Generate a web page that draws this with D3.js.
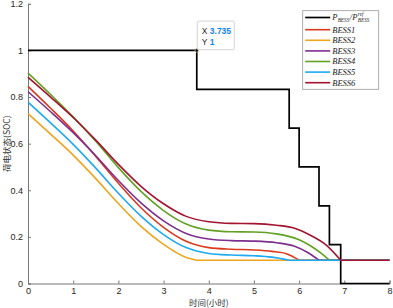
<!DOCTYPE html>
<html>
<head>
<meta charset="utf-8">
<script src="https://cdn.jsdelivr.net/npm/d3@7"></script>
<style>
  body { margin: 0; background: #fff; }
  svg { display: block; }
  .tick text { font-family: "Liberation Sans", Arial, sans-serif; font-size: 9px; fill: #262626; }
</style>
</head>
<body>
<svg id="chart"></svg>
<script>
// power reference step (P_BESS / P_BESS^ref)
const stepTimes = [0, 3.735, 5.78, 6.0, 6.44, 6.67, 6.92, 8];
const stepValues = [1, 0.833, 0.667, 0.5, 0.333, 0.167, 0, 0];

// SOC curves, [hour, soc]; each ends where it hits the 0.1 floor
const bess1 = [[0,0.846],[0.5,0.752],[1,0.654],[1.5,0.545],[2,0.430],[2.5,0.325],[3,0.241],[3.5,0.181],[4,0.154],[4.5,0.147],[5,0.144],[5.4,0.138],[5.72,0.128],[6.0,0.1]];
const bess2 = [[0,0.729],[0.5,0.641],[1,0.551],[1.5,0.450],[2,0.343],[2.5,0.245],[3,0.168],[3.5,0.112],[3.735,0.1]];
const bess3 = [[0,0.823],[0.5,0.737],[1,0.647],[1.5,0.548],[2,0.442],[2.5,0.346],[3,0.269],[3.5,0.215],[4,0.191],[4.5,0.184],[5,0.182],[5.5,0.175],[5.9,0.160],[6.2,0.132],[6.44,0.1]];
const bess4 = [[0,0.903],[0.5,0.811],[1,0.715],[1.5,0.610],[2,0.497],[2.5,0.395],[3,0.313],[3.5,0.255],[4,0.229],[4.5,0.222],[5,0.221],[5.5,0.213],[6,0.188],[6.25,0.162],[6.5,0.128],[6.67,0.1]];
const bess5 = [[0,0.778],[0.5,0.689],[1,0.597],[1.5,0.495],[2,0.387],[2.5,0.289],[3,0.210],[3.5,0.154],[4,0.129],[4.5,0.122],[5,0.119],[5.4,0.113],[5.78,0.1]];
const bess6 = [[0,0.885],[0.5,0.800],[1,0.712],[1.5,0.615],[2,0.511],[2.5,0.417],[3,0.342],[3.5,0.288],[4,0.265],[4.5,0.258],[5,0.257],[5.5,0.250],[5.9,0.237],[6.25,0.207],[6.6,0.165],[6.92,0.1]];
const socFloor = 0.1;
const endHour = 8;

const seriesNames = ["BESS1", "BESS2", "BESS3", "BESS4", "BESS5", "BESS6"];
const seriesColors = ["#DA3A1B", "#EDA51E", "#7E2F8E", "#62A123", "#1EAAF0", "#A2142F"];
const seriesData = [bess1, bess2, bess3, bess4, bess5, bess6];

const xTicks = [0, 1, 2, 3, 4, 5, 6, 7, 8];
const yTicks = [0, 0.2, 0.4, 0.6, 0.8, 1, 1.2];

const tipPoint = {x: 3.735, y: 1};

const width = 393, height = 308;
const margin = {top: 3.8, right: 3.5, bottom: 24.5, left: 28};
const innerW = width - margin.left - margin.right;
const innerH = height - margin.top - margin.bottom;

const svg = d3.select("#chart").attr("width", width).attr("height", height);
const g = svg.append("g").attr("transform", `translate(${margin.left},${margin.top})`);

const x = d3.scaleLinear().domain([0, 8]).range([0, innerW]);
const y = d3.scaleLinear().domain([0, 1.2]).range([innerH, 0]);

// axes, ticks pointing inward
g.append("g")
    .attr("transform", `translate(0,${innerH})`)
    .call(d3.axisBottom(x).tickValues(xTicks).tickSize(-3).tickPadding(4).tickFormat(d3.format("d")))
    .call(a => a.select(".domain").attr("stroke", "#777"))
    .call(a => a.selectAll(".tick line").attr("stroke", "#777"));

g.append("g")
    .call(d3.axisLeft(y).tickValues(yTicks).tickSize(-3).tickPadding(5).tickFormat(d => d3.format("~g")(d)))
    .call(a => a.select(".domain").attr("stroke", "#777"))
    .call(a => a.selectAll(".tick line").attr("stroke", "#777"));

// axis titles
svg.append("text")
    .attr("x", margin.left + innerW / 2)
    .attr("y", 306)
    .attr("text-anchor", "middle")
    .attr("font-family", "'Noto Sans CJK SC', sans-serif")
    .attr("font-size", 8.5)
    .attr("fill", "#333")
    .text("时间(小时)");

svg.append("text")
    .attr("transform", `translate(9.5,${margin.top + innerH / 2}) rotate(-90)`)
    .attr("text-anchor", "middle")
    .attr("font-family", "'Noto Sans CJK SC', sans-serif")
    .attr("font-size", 8.5)
    .attr("fill", "#333")
    .text("荷电状态(SOC)");

// step line
const stepPts = stepTimes.map((t, i) => [t, stepValues[i]]);
g.append("path")
    .datum(stepPts)
    .attr("fill", "none")
    .attr("stroke", "#000")
    .attr("stroke-width", 1.7)
    .attr("d", d3.line().x(d => x(d[0])).y(d => y(d[1])).curve(d3.curveStepAfter));

// SOC curves
const smooth = d3.line().x(d => x(d[0])).y(d => y(d[1])).curve(d3.curveMonotoneX);
const straight = d3.line().x(d => x(d[0])).y(d => y(d[1]));

seriesData.forEach((pts, i) => {
    const last = pts[pts.length - 1];
    const path = smooth(pts) + straight([last, [endHour, socFloor]]).replace(/^M/, "L");
    g.append("path")
        .attr("fill", "none")
        .attr("stroke", seriesColors[i])
        .attr("stroke-width", 1.6)
        .attr("stroke-linejoin", "round")
        .attr("d", path);
});

// data tip
const tipX = x(tipPoint.x), tipY = y(tipPoint.y);
g.append("circle")
    .attr("cx", tipX).attr("cy", tipY).attr("r", 1.8)
    .attr("fill", "#111").attr("stroke", "#e8e0a0").attr("stroke-width", 0.6);

const tip = g.append("g").attr("transform", `translate(${tipX},${tipY - 29.3})`);
tip.append("rect")
    .attr("x", 0.5).attr("y", 0).attr("width", 37).attr("height", 28.6).attr("rx", 1.5)
    .attr("fill", "#fff").attr("stroke", "#c8c8c8").attr("stroke-width", 0.8);
const tipRows = [["X", d3.format(".3f")(tipPoint.x)], ["Y", d3.format("~g")(tipPoint.y)]];
tipRows.forEach((r, i) => {
    const t = tip.append("text")
        .attr("x", 5).attr("y", 13.2 + i * 11)
        .attr("font-family", "'Liberation Sans', Arial, sans-serif")
        .attr("font-size", 8.5);
    t.append("tspan").attr("fill", "#262626").text(r[0] + " ");
    t.append("tspan").attr("fill", "#1283ea").attr("font-weight", "bold").text(r[1]);
});

// legend
const legend = svg.append("g").attr("transform", "translate(302.7,10.7)");
legend.append("rect")
    .attr("width", 76).attr("height", 78.6)
    .attr("fill", "#fff").attr("stroke", "#999").attr("stroke-width", 0.8);

const rowY = i => i === 0 ? 6.8 : 19 + (i - 1) * 10.6;
const serif = "'Liberation Serif', 'Times New Roman', serif";

legend.append("line")
    .attr("x1", 2.5).attr("x2", 27.5).attr("y1", rowY(0)).attr("y2", rowY(0))
    .attr("stroke", "#000").attr("stroke-width", 1.7);

// P_BESS / P_BESS^ref
let cx = 29.5;
const addText = (txt, size, dy, xpos) => {
    const t = legend.append("text")
        .attr("x", xpos).attr("y", rowY(0) + dy)
        .attr("font-family", serif).attr("font-style", "italic")
        .attr("font-size", size).attr("fill", "#222")
        .text(txt);
    return t.node().getComputedTextLength();
};
cx += addText("P", 8.5, 3, cx) + 0.3;
cx += addText("BESS", 5.2, 4.6, cx) + 0.5;
cx += addText("/", 8.5, 3, cx) + 0.2;
cx += addText("P", 8.5, 3, cx) + 0.3;
addText("ref", 5.2, -1.6, cx);
addText("BESS", 5.2, 4.6, cx);

seriesNames.forEach((name, i) => {
    const yy = rowY(i + 1);
    legend.append("line")
        .attr("x1", 2.5).attr("x2", 27.5).attr("y1", yy).attr("y2", yy)
        .attr("stroke", seriesColors[i]).attr("stroke-width", 1.6);
    legend.append("text")
        .attr("x", 29.5).attr("y", yy + 3)
        .attr("font-family", serif).attr("font-style", "italic")
        .attr("font-size", 8.5).attr("fill", "#222")
        .text(name);
});
</script>
</body>
</html>
